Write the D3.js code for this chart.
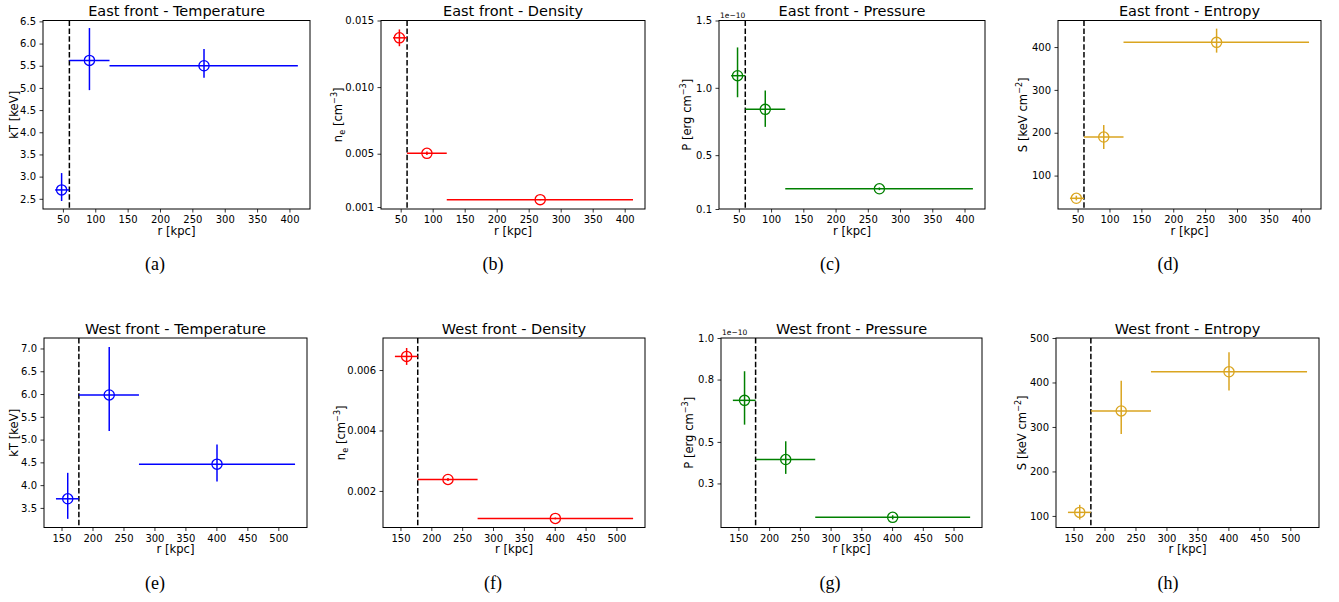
<!DOCTYPE html>
<html>
<head>
<meta charset="utf-8">
<script src="https://cdn.jsdelivr.net/npm/d3@7"></script>
<style>
  body { margin: 0; background: #fff; }
  svg { display: block; }
  text { font-family: 'DejaVu Sans', sans-serif; fill: #000; }
  text.caption { font-family: 'Liberation Serif', 'Times New Roman', serif; }
</style>
</head>
<body>
<div id="chart"></div>
<script>
// radial bins (kpc): point position, inner and outer edge
const eastR = [48, 91, 268];
const eastRLo = [38, 60, 122];
const eastRHi = [60, 122, 413];
const eastFront = 60;

const westR = [160, 227, 401];
const westRLo = [141, 178, 275];
const westRHi = [178, 275, 527];
const westFront = 178;

// temperature kT [keV]
const eastKT = [2.70, 5.62, 5.50];
const eastKTLo = [2.45, 4.95, 5.23];
const eastKTHi = [3.08, 6.35, 5.88];
const westKT = [3.70, 5.98, 4.46];
const westKTLo = [3.26, 5.19, 4.08];
const westKTHi = [4.27, 7.03, 4.89];

// electron density n_e [cm^-3]
const eastNe = [0.01370, 0.00503, 0.00155];
const eastNeLo = [0.01307, 0.00490, 0.00150];
const eastNeHi = [0.01433, 0.00516, 0.00160];
const westNe = [0.00645, 0.00238, 0.00109];
const westNeLo = [0.00617, 0.00233, 0.00106];
const westNeHi = [0.00673, 0.00243, 0.00112];

// pressure P [1e-10 erg cm^-3]
const eastP = [1.09, 0.84, 0.25];
const eastPLo = [0.93, 0.71, 0.24];
const eastPHi = [1.30, 0.98, 0.26];
const westP = [0.70, 0.415, 0.137];
const westPLo = [0.583, 0.346, 0.127];
const westPHi = [0.84, 0.503, 0.147];

// entropy S [keV cm^2]
const eastS = [47, 190, 411];
const eastSLo = [42, 162, 387];
const eastSHi = [53, 218, 443];
const westS = [108, 336, 424];
const westSLo = [92, 284, 382];
const westSHi = [125, 404, 468];

// axis limits and tick labels
const eastXTicks = [50, 100, 150, 200, 250, 300, 350, 400];
const westXTicks = [150, 200, 250, 300, 350, 400, 450, 500];

const eastKTRange = [2.27, 6.52];
const eastKTTicks = [2.5, 3.0, 3.5, 4.0, 4.5, 5.0, 5.5, 6.0, 6.5];
const eastNeRange = [0.00085, 0.0150];
const eastNeTicks = [0.001, 0.005, 0.010, 0.015];
const eastPRange = [0.1, 1.5];
const eastPTicks = [0.1, 0.5, 1.0, 1.5];
const eastSRange = [22, 462];
const eastSTicks = [100, 200, 300, 400];

const westKTRange = [3.07, 7.23];
const westKTTicks = [3.5, 4.0, 4.5, 5.0, 5.5, 6.0, 6.5, 7.0];
const westNeRange = [0.00079, 0.00706];
const westNeTicks = [0.002, 0.004, 0.006];
const westPRange = [0.088, 1.0];
const westPTicks = [0.3, 0.5, 0.8, 1.0];
const westSRange = [74, 500];
const westSTicks = [100, 200, 300, 400, 500];

const colors = {
  temperature: '#0000ff',
  density: '#ff0000',
  pressure: '#008000',
  entropy: '#daa520'
};

const labels = {
  temperature: [['kT [keV]']],
  density: [['n'], ['e', 'sub'], [' [cm'], ['\u22123', 'sup'], [']']],
  pressure: [['P [erg cm'], ['\u22123', 'sup'], [']']],
  entropy: [['S [keV cm'], ['\u22122', 'sup'], [']']]
};

const east = { r: eastR, lo: eastRLo, hi: eastRHi, front: eastFront, ticks: eastXTicks };
const west = { r: westR, lo: westRLo, hi: westRHi, front: westFront, ticks: westXTicks };

// layout: axes box [left, top, right, bottom], caption centre, y-label offset
const panels = [
  { side: east, kind: 'temperature', title: 'East front - Temperature', caption: '(a)',
    v: eastKT, vlo: eastKTLo, vhi: eastKTHi, range: eastKTRange, ticks: eastKTTicks, fmt: '.1f',
    box: [43, 20.5, 310, 209], capX: 155, labOff: 25.5 },
  { side: east, kind: 'density', title: 'East front - Density', caption: '(b)',
    v: eastNe, vlo: eastNeLo, vhi: eastNeHi, range: eastNeRange, ticks: eastNeTicks, fmt: '.3f',
    box: [381, 20.5, 645, 209], capX: 493, labOff: 39 },
  { side: east, kind: 'pressure', title: 'East front - Pressure', caption: '(c)',
    v: eastP, vlo: eastPLo, vhi: eastPHi, range: eastPRange, ticks: eastPTicks, fmt: '.1f', offsetText: '1e\u221210',
    box: [719, 20.5, 985, 209], capX: 830, labOff: 28 },
  { side: east, kind: 'entropy', title: 'East front - Entropy', caption: '(d)',
    v: eastS, vlo: eastSLo, vhi: eastSHi, range: eastSRange, ticks: eastSTicks, fmt: 'd',
    box: [1058, 20.5, 1321, 209], capX: 1168, labOff: 31 },
  { side: west, kind: 'temperature', title: 'West front - Temperature', caption: '(e)',
    v: westKT, vlo: westKTLo, vhi: westKTHi, range: westKTRange, ticks: westKTTicks, fmt: '.1f',
    box: [44, 338, 307, 527.5], capX: 155, labOff: 26 },
  { side: west, kind: 'density', title: 'West front - Density', caption: '(f)',
    v: westNe, vlo: westNeLo, vhi: westNeHi, range: westNeRange, ticks: westNeTicks, fmt: '.3f',
    box: [383, 338, 645, 527.5], capX: 493, labOff: 38 },
  { side: west, kind: 'pressure', title: 'West front - Pressure', caption: '(g)',
    v: westP, vlo: westPLo, vhi: westPHi, range: westPRange, ticks: westPTicks, fmt: '.1f', offsetText: '1e\u221210',
    box: [721, 338, 982, 527.5], capX: 830, labOff: 28 },
  { side: west, kind: 'entropy', title: 'West front - Entropy', caption: '(h)',
    v: westS, vlo: westSLo, vhi: westSHi, range: westSRange, ticks: westSTicks, fmt: 'd',
    box: [1056, 338, 1319, 527.5], capX: 1168, labOff: 30 }
];

const svg = d3.select('#chart')
  .append('svg')
  .attr('width', 1339)
  .attr('height', 602);

// matplotlib-like 5% margin around the bin edges
function xDomain(side) {
  const lo = d3.min(side.lo), hi = d3.max(side.hi);
  const pad = (hi - lo) * 0.05;
  return [lo - pad, hi + pad];
}

function writeLabel(text, parts, size) {
  let shift = 0;
  parts.forEach(([txt, kind]) => {
    const target = kind === 'sup' ? -0.42 * size : kind === 'sub' ? 0.25 * size : 0;
    text.append('tspan')
      .attr('dy', target - shift)
      .attr('font-size', kind ? size * 0.7 : size)
      .text(txt);
    shift = target;
  });
}

function styleAxis(g) {
  g.select('.domain').remove();
  g.selectAll('.tick line').attr('stroke', '#000').attr('stroke-width', 0.8);
  g.selectAll('.tick text')
    .attr('font-size', 10)
    .attr('fill', '#000');
}

function drawPanel(p) {
  const [left, top, right, bottom] = p.box;
  const color = colors[p.kind];
  const x = d3.scaleLinear().domain(xDomain(p.side)).range([left, right]);
  const y = d3.scaleLinear().domain(p.range).range([bottom, top]);
  const g = svg.append('g');

  g.append('g')
    .attr('transform', `translate(0,${bottom})`)
    .call(d3.axisBottom(x).tickValues(p.side.ticks).tickSize(3.5).tickPadding(3.5).tickFormat(d3.format('d')))
    .call(styleAxis);

  g.append('g')
    .attr('transform', `translate(${left},0)`)
    .call(d3.axisLeft(y).tickValues(p.ticks).tickSize(3.5).tickPadding(3.5).tickFormat(d3.format(p.fmt)))
    .call(styleAxis);

  // front position
  g.append('line')
    .attr('x1', x(p.side.front)).attr('x2', x(p.side.front))
    .attr('y1', top).attr('y2', bottom)
    .attr('stroke', '#000')
    .attr('stroke-width', 1.5)
    .attr('stroke-dasharray', '5.5,2.4');

  const pts = p.v.map((v, i) => ({
    r: p.side.r[i], rlo: p.side.lo[i], rhi: p.side.hi[i], v: v, vlo: p.vlo[i], vhi: p.vhi[i]
  }));

  const marks = g.append('g').attr('stroke', color).attr('fill', 'none');
  marks.selectAll('line.h')
    .data(pts)
    .join('line')
    .attr('class', 'h')
    .attr('x1', d => x(d.rlo)).attr('x2', d => x(d.rhi))
    .attr('y1', d => y(d.v)).attr('y2', d => y(d.v))
    .attr('stroke-width', 1.5);
  marks.selectAll('line.v')
    .data(pts)
    .join('line')
    .attr('class', 'v')
    .attr('x1', d => x(d.r)).attr('x2', d => x(d.r))
    .attr('y1', d => y(d.vlo)).attr('y2', d => y(d.vhi))
    .attr('stroke-width', 1.5);
  marks.selectAll('circle')
    .data(pts)
    .join('circle')
    .attr('cx', d => x(d.r))
    .attr('cy', d => y(d.v))
    .attr('r', 5.1)
    .attr('stroke-width', 1.3);

  // frame
  g.append('rect')
    .attr('x', left).attr('y', top)
    .attr('width', right - left).attr('height', bottom - top)
    .attr('fill', 'none')
    .attr('stroke', '#000')
    .attr('stroke-width', 1);

  g.append('text')
    .attr('x', (left + right) / 2)
    .attr('y', top - 4.5)
    .attr('text-anchor', 'middle')
    .attr('font-size', 14.5)
    .text(p.title);

  g.append('text')
    .attr('x', (left + right) / 2)
    .attr('y', bottom + 25.5)
    .attr('text-anchor', 'middle')
    .attr('font-size', 11.6)
    .text('r [kpc]');

  const ylab = g.append('text')
    .attr('transform', `translate(${left - p.labOff},${(top + bottom) / 2}) rotate(-90)`)
    .attr('text-anchor', 'middle');
  writeLabel(ylab, labels[p.kind], 11.6);

  if (p.offsetText) {
    g.append('text')
      .attr('x', left + 1)
      .attr('y', top - 3)
      .attr('font-size', 7.5)
      .text(p.offsetText);
  }

  g.append('text')
    .attr('class', 'caption')
    .attr('x', p.capX)
    .attr('y', bottom + 61)
    .attr('text-anchor', 'middle')
    .attr('font-size', 18)
    .text(p.caption);
}

panels.forEach(drawPanel);
</script>
</body>
</html>
